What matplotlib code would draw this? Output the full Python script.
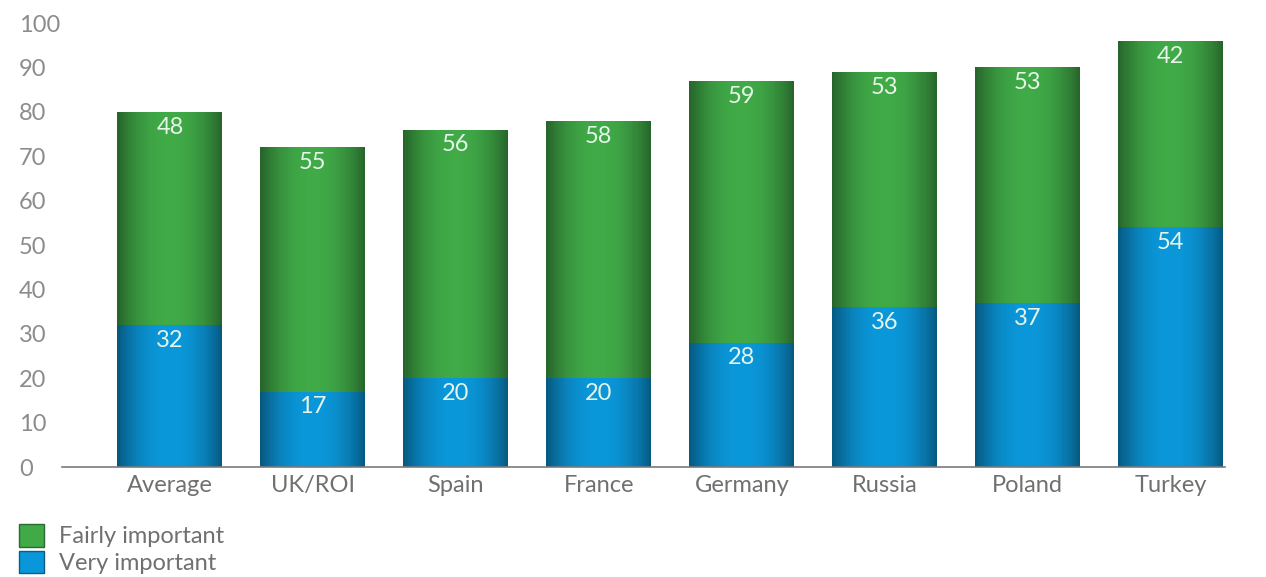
import numpy as np
import matplotlib
matplotlib.use('Agg')
from matplotlib import pyplot as plt, patches
from matplotlib.colors import to_rgb

categories = ['Average', 'UK/ROI', 'Spain', 'France', 'Germany', 'Russia', 'Poland', 'Turkey']
very_important = [32, 17, 20, 20, 28, 36, 37, 54]
fairly_important = [48, 55, 56, 58, 59, 53, 53, 42]
yticks = list(range(0, 101, 10))

plt.rcParams['font.family'] = ['Lato', 'DejaVu Sans']

green = '#40aa47'
blue = '#0a97da'

fig = plt.figure(figsize=(12.66, 5.77), dpi=100)
ax = fig.add_axes([0.049, 0.1906, 0.9186, 0.7694])

x = np.arange(len(categories))
w = 0.734
b1 = ax.bar(x, very_important, w, color=blue, label='Very important')
b2 = ax.bar(x, fairly_important, w, bottom=very_important, color=green, label='Fairly important')

# shading: thin strips, darker towards the bar edges
n = 50
t = (np.arange(n) + 0.5) / n * 2 - 1
k = 1 - 0.42 * np.abs(t) ** 2.2
for vals, bottoms, col in [(very_important, None, blue), (fairly_important, very_important, green)]:
    rgb = np.array(to_rgb(col))
    for i in range(n):
        xs = x - w / 2 + (i + 0.5) * w / n
        ax.bar(xs, vals, w / n * 1.02, bottom=bottoms, color=rgb * k[i],
               linewidth=0, antialiased=False, zorder=2)

for bars, vals in [(b1, very_important), (b2, fairly_important)]:
    for rect, v in zip(bars, vals):
        ax.annotate(str(v), (rect.get_x() + rect.get_width() / 2, rect.get_y() + rect.get_height()),
                    xytext=(0, -11), textcoords='offset points', ha='center', va='center',
                    color='#e6f4ea', fontsize=17, zorder=5)

ax.set_xlim(-0.755, 7.38)
ax.set_ylim(0, 100)
ax.set_yticks(yticks)
ax.set_xticks(x)
ax.set_xticklabels(categories, fontsize=17, color='#707070')
ax.tick_params(axis='x', length=0, pad=6)
ax.tick_params(axis='y', length=0, pad=31, labelsize=17, labelcolor='#8c8c8c')
for lab in ax.get_yticklabels():
    lab.set_horizontalalignment('left')
for s in ['top', 'right', 'left']:
    ax.spines[s].set_visible(False)
ax.spines['bottom'].set_color('#7a7a7a')
ax.spines['bottom'].set_linewidth(1.2)
ax.spines['bottom'].set_zorder(3)

handles = [patches.Patch(facecolor=green, edgecolor='#2b6a33'),
           patches.Patch(facecolor=blue, edgecolor='#0b5e88')]
fig.legend(handles, ['Fairly important', 'Very important'], loc='upper left',
           bbox_to_anchor=(0.015, 0.092), frameon=False, fontsize=17, labelcolor='#707070',
           handlelength=1.05, handleheight=1.1, handletextpad=0.65, labelspacing=0.15,
           borderpad=0, borderaxespad=0)

fig.savefig('out.png', dpi=100)
